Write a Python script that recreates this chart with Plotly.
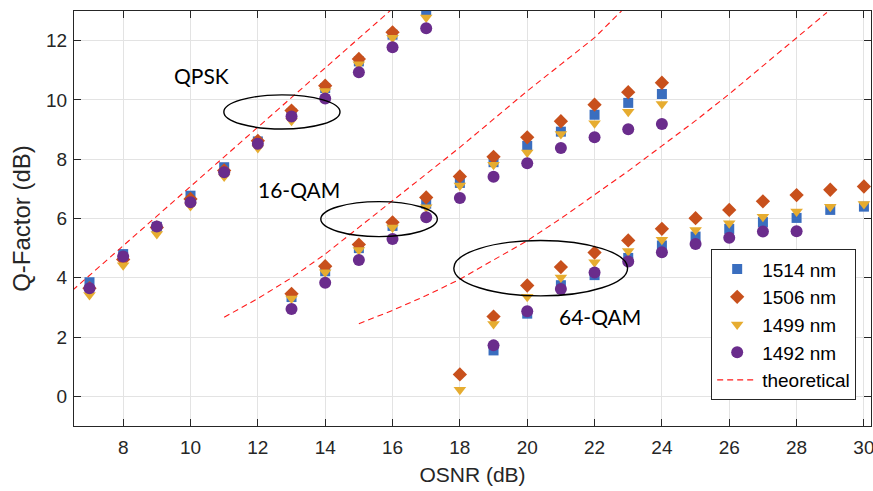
import plotly.graph_objects as go

# ---------------- data ----------------
osnr_qpsk = [7, 8, 9, 10, 11, 12, 13, 14, 15, 16, 17]
qpsk_1514 = [3.85, 4.80, 5.72, 6.77, 7.73, 8.60, 9.55, 10.40, 11.30, 12.20, 13.03]
qpsk_1506 = [3.65, 4.62, 5.70, 6.66, 7.62, 8.62, 9.64, 10.48, 11.38, 12.28, 13.50]
qpsk_1499 = [3.42, 4.42, 5.48, 6.42, 7.42, 8.38, 9.30, 10.30, 11.20, 12.10, 12.78]
qpsk_1492 = [3.65, 4.72, 5.73, 6.55, 7.56, 8.52, 9.44, 10.05, 10.93, 11.78, 12.42]

osnr_16qam = [13, 14, 15, 16, 17, 18, 19, 20, 21, 22, 23, 24]
qam16_1514 = [3.35, 4.22, 5.00, 5.75, 6.50, 7.20, 7.90, 8.45, 8.93, 9.50, 9.90, 10.20]
qam16_1506 = [3.46, 4.39, 5.12, 5.87, 6.71, 7.42, 8.08, 8.74, 9.28, 9.84, 10.26, 10.58]
qam16_1499 = [3.30, 4.19, 4.94, 5.70, 6.38, 7.11, 7.81, 8.23, 8.85, 9.21, 9.60, 9.86]
qam16_1492 = [2.95, 3.83, 4.60, 5.31, 6.04, 6.69, 7.41, 7.86, 8.38, 8.74, 9.01, 9.19]

osnr_64qam = [18, 19, 20, 21, 22, 23, 24, 25, 26, 27, 28, 29, 30]
qam64_1514 = [None, 1.55, 2.79, 3.75, 4.09, 4.67, 5.09, 5.39, 5.65, 5.88, 6.02, 6.29, 6.40]
qam64_1506 = [0.74, 2.69, 3.74, 4.36, 4.85, 5.26, 5.65, 6.01, 6.29, 6.58, 6.79, 6.97, 7.08]
qam64_1499 = [0.22, 2.44, 3.36, 4.01, 4.52, 4.90, 5.28, 5.61, 5.84, 6.06, 6.24, 6.40, 6.49]
qam64_1492 = [None, 1.72, 2.87, 3.62, 4.18, 4.55, 4.86, 5.14, 5.35, 5.56, 5.57, None, None]

theo_qpsk_x = [6.5, 8, 10, 12, 14, 16]
theo_qpsk_y = [3.58, 5.08, 7.08, 9.08, 11.08, 13.08]
theo_16_x = [11, 12, 13, 14, 15, 16, 17, 18, 19, 20, 21, 22, 22.8]
theo_16_y = [2.67, 3.30, 4.00, 4.80, 5.70, 6.60, 7.50, 8.40, 9.35, 10.30, 11.20, 12.10, 13.00]
theo_64_x = [15, 16, 17, 18, 19, 20, 21, 22, 23, 24, 25, 26, 27, 28, 28.9]
theo_64_y = [2.45, 2.90, 3.40, 3.95, 4.60, 5.25, 6.00, 6.80, 7.60, 8.45, 9.30, 10.20, 11.15, 12.10, 12.95]

series_names = ["1514 nm", "1506 nm", "1499 nm", "1492 nm"]
x_ticks = [8, 10, 12, 14, 16, 18, 20, 22, 24, 26, 28, 30]
y_ticks = [0, 2, 4, 6, 8, 10, 12]

# ---------------- styles ----------------
colors = ["#3A6EBF", "#C8501C", "#E6AC30", "#6A2C8C"]
symbols = ["square", "diamond", "triangle-down", "circle"]
sizes = [10, 11, 11, 12]

fig = go.Figure()

groups = [
    (osnr_qpsk, [qpsk_1514, qpsk_1506, qpsk_1499, qpsk_1492]),
    (osnr_16qam, [qam16_1514, qam16_1506, qam16_1499, qam16_1492]),
    (osnr_64qam, [qam64_1514, qam64_1506, qam64_1499, qam64_1492]),
]

for i in range(4):
    xs, ys = [], []
    for gx, gys in groups:
        xs += list(gx) + [None]
        ys += list(gys[i]) + [None]
    fig.add_trace(go.Scatter(
        x=xs, y=ys, mode="markers", name=series_names[i],
        marker=dict(symbol=symbols[i], color=colors[i], size=sizes[i],
                    line=dict(width=0)),
        cliponaxis=True,
    ))

theo = [(theo_qpsk_x, theo_qpsk_y), (theo_16_x, theo_16_y), (theo_64_x, theo_64_y)]
for k, (tx, ty) in enumerate(theo):
    fig.add_trace(go.Scatter(
        x=tx, y=ty, mode="lines", name="theoretical", showlegend=(k == 0),
        line=dict(color="#FF1A1A", width=1.1, dash="6px,4px"),
    ))

# ellipses
ellipses = [(10.99, 9.02, 14.44, 10.17), (13.87, 5.39, 17.33, 6.57), (17.82, 3.39, 22.98, 5.26)]
for x0, y0, x1, y1 in ellipses:
    fig.add_shape(type="circle", xref="x", yref="y", x0=x0, y0=y0, x1=x1, y1=y1,
                  line=dict(color="black", width=1.4))

labels = [("QPSK", 10.33, 10.82), ("16-QAM", 13.21, 6.97), ("64-QAM", 22.16, 2.70)]
for txt, lx, ly in labels:
    fig.add_annotation(x=lx, y=ly, text=txt, showarrow=False, xref="x", yref="y",
                       font=dict(family="Lato", size=21, color="black"))

axis_common = dict(
    showline=True, linecolor="#262626", linewidth=1.2, mirror="ticks",
    ticks="inside", ticklen=7, tickcolor="#262626", tickwidth=1,
    showgrid=True, gridcolor="#E3E3E3", gridwidth=1, zeroline=False,
    tickfont=dict(family="Liberation Sans", size=19, color="#262626"),
    ticklabeloverflow="allow", automargin=False,
)

fig.update_layout(
    width=873, height=491,
    margin=dict(l=74, r=2, t=11, b=65),
    paper_bgcolor="white", plot_bgcolor="white",
    xaxis=dict(range=[6.54, 30.21], tickvals=x_ticks, ticklabelstandoff=4,
               title=dict(text="OSNR (dB)", font=dict(family="Liberation Sans", size=21, color="#262626"), standoff=10),
               **axis_common),
    yaxis=dict(range=[-1, 13], tickvals=y_ticks, ticklabelstandoff=2,
               title=dict(text="Q-Factor (dB)", font=dict(family="Liberation Sans", size=24, color="#262626"), standoff=8),
               **axis_common),
    legend=dict(x=0.9814, y=0.062, xanchor="right", yanchor="bottom",
                bgcolor="white", bordercolor="#262626", borderwidth=1,
                font=dict(family="Liberation Sans", size=19, color="black"),
                itemwidth=40, tracegroupgap=0, entrywidth=112, entrywidthmode="pixels"),
    showlegend=True,
)

fig.write_html("out.html")
